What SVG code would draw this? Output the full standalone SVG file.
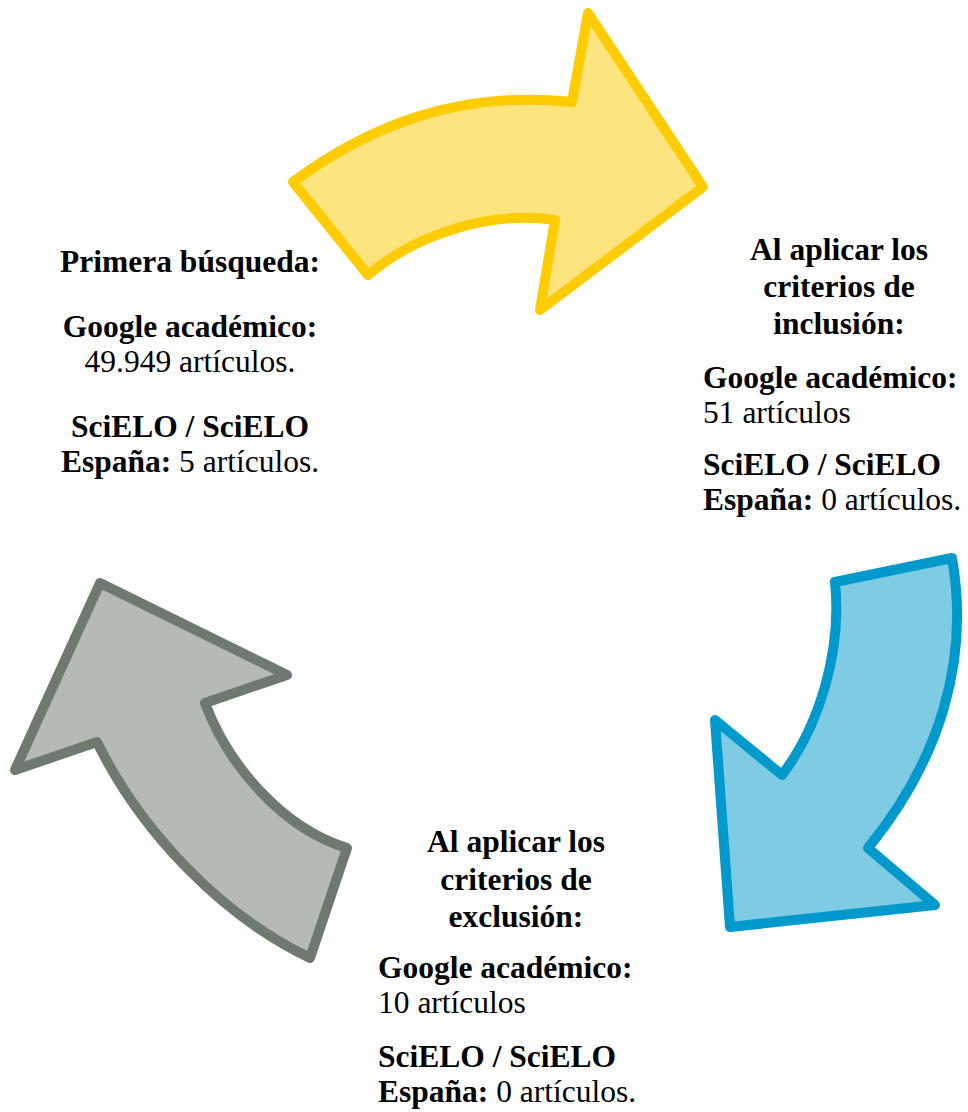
<svg xmlns="http://www.w3.org/2000/svg" width="968" height="1112" viewBox="0 0 968 1112">
<style>
text{font-family:"Liberation Serif","Times New Roman",serif;font-size:31.5px;fill:#000}
.b{font-weight:bold}
.c{text-anchor:middle}
.arrow{stroke-width:10;stroke-linejoin:round}
</style>
<rect width="968" height="1112" fill="#fff"/>
<g id="connectors">
<path id="arrow-yellow" class="arrow" fill="#FDE47F" stroke="#FFCC00" d="M293,182 C370,125 460,90 572,102 L588,13 L703,187 L540,310 L555,220 C490,210 415,235 368,275 Z"/>
<path id="arrow-blue" class="arrow" fill="#7FCBE3" stroke="#0099CC" d="M835,582 L952,558 C970,660 940,760 868,848 L935,905 L730,927 L715,720 L782,775 C820,725 842,650 835,582 Z"/>
<path id="arrow-gray" class="arrow" fill="#B4BBB5" stroke="#6E7A6F" d="M100,583 L287,675 L205,703 C228,765 282,828 347,848 L310,958 C220,915 140,830 97,742 L15,770 Z"/>
</g>
<g id="node-primera">
<text class="b c" x="190" y="272">Primera búsqueda:</text>
<text class="c" x="190" y="337"><tspan class="b">Google académico:</tspan></text>
<text class="c" x="190" y="372">49.949 artículos.</text>
<text class="c b" x="190" y="437">SciELO / SciELO</text>
<text class="c" x="190" y="472"><tspan class="b">España:</tspan> 5 artículos.</text>
</g>
<g id="node-inclusion">
<text class="b c" x="839" y="260">Al aplicar los</text>
<text class="b c" x="839" y="297">criterios de</text>
<text class="b c" x="839" y="334">inclusión:</text>
<text class="b" x="703" y="388">Google académico:</text>
<text x="703" y="423">51 artículos</text>
<text class="b" x="703" y="475">SciELO / SciELO</text>
<text x="703" y="510"><tspan class="b">España:</tspan> 0 artículos.</text>
</g>
<g id="node-exclusion">
<text class="b c" x="516" y="852">Al aplicar los</text>
<text class="b c" x="516" y="890">criterios de</text>
<text class="b c" x="516" y="927">exclusión:</text>
<text class="b" x="378" y="978">Google académico:</text>
<text x="378" y="1013">10 artículos</text>
<text class="b" x="378" y="1067">SciELO / SciELO</text>
<text x="378" y="1102"><tspan class="b">España:</tspan> 0 artículos.</text>
</g>
</svg>
